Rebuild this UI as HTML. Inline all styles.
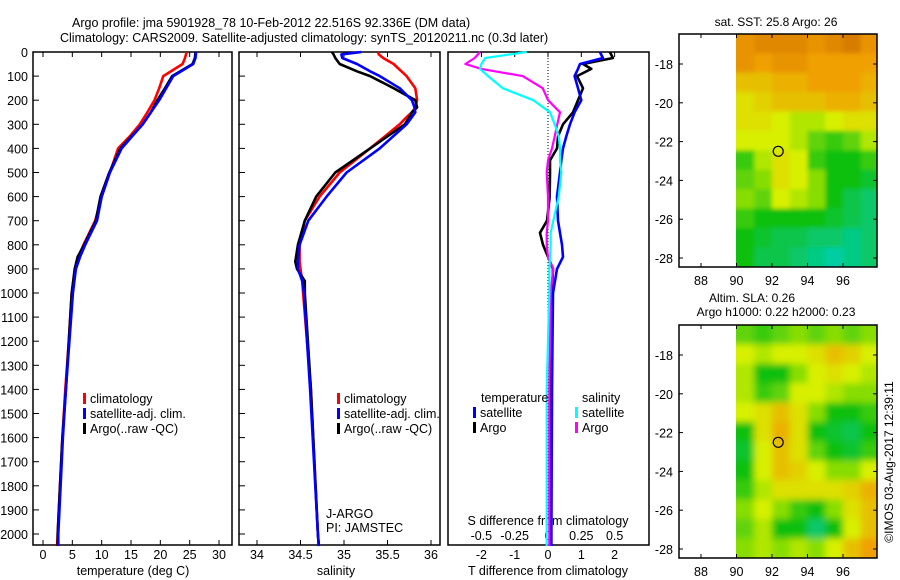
<!DOCTYPE html>
<html><head><meta charset="utf-8">
<style>
html,body{margin:0;padding:0;background:#fff;}
svg{display:block;font-family:"Liberation Sans",sans-serif;font-size:12.5px;}
</style></head>
<body>
<svg id="fig" width="900" height="580" viewBox="0 0 900 580" xmlns="http://www.w3.org/2000/svg">
<defs>
<filter id="blur" x="-5%" y="-5%" width="110%" height="110%"><feGaussianBlur stdDeviation="3.5"/></filter>
<filter id="blur2" x="-5%" y="-5%" width="110%" height="110%"><feGaussianBlur stdDeviation="2"/></filter>
<clipPath id="clip1"><rect x="736" y="34" width="141" height="233"/></clipPath>
<clipPath id="clip2"><rect x="736" y="325" width="141" height="233"/></clipPath>
</defs>
<text x="72" y="27">Argo profile: jma 5901928_78 10-Feb-2012 22.516S 92.336E (DM data)</text>
<text x="60" y="42">Climatology: CARS2009. Satellite-adjusted climatology: synTS_20120211.nc (0.3d later)</text>
<text x="776" y="26" text-anchor="middle" font-size="12">sat. SST: 25.8 Argo: 26</text>
<text x="752" y="302" text-anchor="middle" font-size="12">Altim. SLA: 0.26</text>
<text x="776" y="316" text-anchor="middle" font-size="12">Argo h1000: 0.22 h2000: 0.23</text>
<text transform="translate(893,462) rotate(-90)" text-anchor="middle" font-size="12">©IMOS 03-Aug-2017 12:39:11</text>
<g id="g"></g>
</svg>
<script>
// ---- data ----
const tDepth=[0,25,50,100,150,200,250,300,350,400,500,600,700,800,850,900,1000,1200,1400,1600,1800,2000,2050];
const tClim=[24.5,24.2,23.8,20.5,19.8,19,17.8,16.5,14.8,12.8,11.4,10,8.9,6.9,6.1,5.5,4.9,4.4,3.8,3.3,2.9,2.5,2.4];
const tSat=[26.1,26,25.6,22.2,21,19.8,18.4,17,15.2,13.4,11.4,10,9.2,7.2,6.3,5.6,5.1,4.5,3.9,3.4,3,2.6,2.6];
const tArgo=[26,25.9,25.5,22,20.8,19.5,18.4,17,15.1,13.2,11.3,9.8,9,7,5.9,5.4,4.9,4.4,3.9,3.3,2.9,2.5,2.5];
const sDepth=[0,10,25,50,80,100,150,200,230,250,270,300,400,500,600,700,800,870,900,950,1000,1400,2000,2050];
const sClim=[35.39,35.4,35.45,35.57,35.66,35.72,35.82,35.84,35.82,35.78,35.72,35.64,35.30,34.95,34.72,34.55,34.49,34.49,34.5,34.52,34.53,34.62,34.70,34.71];
const sSat=[35.2,34.97,34.98,35.15,35.3,35.41,35.64,35.78,35.81,35.82,35.78,35.72,35.41,35.03,34.8,34.59,34.49,34.47,34.47,34.52,34.54,34.61,34.70,34.71];
const sArgo=[34.86,34.88,34.9,34.95,35.15,35.3,35.57,35.82,35.84,35.78,35.75,35.7,35.3,34.9,34.68,34.55,34.47,34.44,34.46,34.55,34.55,34.62,34.70,34.71];
const dDepth=[0,25,50,70,100,150,200,250,300,350,400,450,500,600,700,750,800,850,900,1000,1400,2000,2050];
const dTSat=[1.56,1.65,0.96,0.9,0.8,0.9,1.0,0.8,0.66,0.55,0.45,0.4,0.36,0.27,0.3,0.36,0.42,0.45,0.27,0.15,0.12,0.1,0.1];
const dTArgo=[1.86,1.95,1.05,1.3,0.87,1.05,0.9,0.75,0.45,0.3,0.27,0.06,0.06,0.05,-0.03,-0.24,-0.15,0.0,0.15,0.12,0.1,0.1,0.1];
const dSSat=[-0.16,-0.47,-0.5,-0.51,-0.45,-0.34,-0.11,0.015,0.05,0.08,0.09,0.09,0.1,0.08,0.04,0.02,0.02,0.015,0.01,0.01,-0.01,-0.01,-0.01];
const dSArgo=[-0.51,-0.55,-0.62,-0.5,-0.19,-0.04,0.0,0.09,0.07,0.05,0.03,0.0,-0.01,0.0,0.0,-0.01,-0.01,0.0,0.04,0.02,0.01,0.01,0.01];
const depthTicks=[0,100,200,300,400,500,600,700,800,900,1000,1100,1200,1300,1400,1500,1600,1700,1800,1900,2000];
const tTicks=[0,5,10,15,20,25,30];
const sTicks=[34,34.5,35,35.5,36];
const dtTicks=[-2,-1,0,1,2];
const dsTicks=[-0.5,-0.25,0,0.25,0.5];
const dsTickLabels=["-0.5","-0.25","0","0.25","0.5"];
const mapLonTicks=[88,90,92,94,96];
const mapLatTicks=[-18,-20,-22,-24,-26,-28];
const sstGrid=[
[0.85,0.9,0.9,0.9,0.85,0.9,0.95,0.85],
[0.85,0.8,0.85,0.85,0.8,0.8,0.8,0.8],
[0.7,0.7,0.75,0.75,0.8,0.8,0.8,0.75],
[0.6,0.65,0.7,0.7,0.7,0.75,0.75,0.7],
[0.6,0.6,0.55,0.5,0.5,0.55,0.6,0.6],
[0.55,0.55,0.55,0.5,0.4,0.35,0.4,0.5],
[0.35,0.5,0.6,0.55,0.35,0.3,0.3,0.35],
[0.4,0.45,0.6,0.55,0.45,0.3,0.3,0.25],
[0.45,0.4,0.55,0.5,0.45,0.3,0.2,0.15],
[0.35,0.3,0.3,0.3,0.3,0.25,0.2,0.15],
[0.3,0.25,0.2,0.2,0.15,0.15,0.1,0.15],
[0.3,0.2,0.2,0.15,0.1,0.05,0.1,0.15]];
const slaGrid=[
[0.4,0.35,0.4,0.45,0.4,0.45,0.4,0.45],
[0.55,0.5,0.55,0.55,0.6,0.7,0.65,0.55],
[0.5,0.3,0.3,0.45,0.55,0.6,0.55,0.5],
[0.5,0.35,0.4,0.55,0.55,0.5,0.45,0.45],
[0.55,0.6,0.7,0.6,0.45,0.3,0.3,0.35],
[0.3,0.6,0.75,0.6,0.3,0.25,0.2,0.3],
[0.25,0.55,0.7,0.6,0.4,0.3,0.25,0.35],
[0.3,0.55,0.7,0.65,0.55,0.45,0.45,0.55],
[0.35,0.5,0.6,0.6,0.6,0.6,0.65,0.75],
[0.45,0.55,0.45,0.35,0.3,0.45,0.6,0.7],
[0.4,0.5,0.3,0.3,0.15,0.3,0.55,0.7],
[0.45,0.5,0.45,0.5,0.45,0.55,0.7,0.8]];
const argoPos=[92.35,-22.5];

// ---- helpers ----
const NS="http://www.w3.org/2000/svg";
const G=document.getElementById('g');
function mk(tag,attrs,parent){const e=document.createElementNS(NS,tag);for(const k in attrs)e.setAttribute(k,attrs[k]);(parent||G).appendChild(e);return e;}
function txt(x,y,s,anchor,parent){const e=mk('text',{x:x,y:y,'text-anchor':anchor||'start'},parent);e.textContent=s;return e;}
const yD=d=>52+d*0.241;
const PB=545;
const xT=v=>43+v*176/30;
const xS=v=>257+(v-34)*87;
const xDT=v=>548+v*33.3;
const xDS=v=>548+v*133.3;

function frame(x0,x1,name){
  const r=mk('rect',{x:x0,y:52,width:x1-x0,height:PB-52,fill:'none',stroke:'#000','stroke-width':1.5});
  
  
}
function line(xs,ds,xf,color,name,w){
  const p=ds.map((d,i)=>(i?'L':'M')+xf(xs[i]).toFixed(1)+','+yD(d).toFixed(1)).join('');
  const e=mk('path',{d:p,fill:'none',stroke:color,'stroke-width':w||2.6,'stroke-linejoin':'round'});
  
  
}
// depth axis
const dAx=mk('g',{});


depthTicks.forEach(d=>{txt(28,yD(d)+5,String(d),'end',dAx);mk('line',{x1:33,x2:39,y1:yD(d),y2:yD(d),stroke:'#000'},dAx);mk('line',{x1:239,x2:245,y1:yD(d),y2:yD(d),stroke:'#000'},dAx);});

// panel 1 temperature
frame(33,232,'temperature-panel');
const tAx=mk('g',{});


tTicks.forEach(v=>{const x=xT(v);mk('line',{x1:x,x2:x,y1:52,y2:57,stroke:'#000'},tAx);mk('line',{x1:x,x2:x,y1:PB,y2:PB-5,stroke:'#000'},tAx);txt(x,559,String(v),'middle',tAx);});
txt(133,575,'temperature (deg C)','middle',tAx);
line(tClim,tDepth,xT,'#f00','temp-climatology-line');
line(tArgo,tDepth,xT,'#000','temp-argo-line');
line(tSat,tDepth,xT,'#00f','temp-satellite-line');

// panel 2 salinity
frame(239,440,'salinity-panel');
const sAx=mk('g',{});


sTicks.forEach(v=>{const x=xS(v);mk('line',{x1:x,x2:x,y1:52,y2:57,stroke:'#000'},sAx);mk('line',{x1:x,x2:x,y1:PB,y2:PB-5,stroke:'#000'},sAx);txt(x,559,String(v),'middle',sAx);});
txt(336,575,'salinity','middle',sAx);
line(sClim,sDepth,xS,'#f00','sal-climatology-line');
line(sArgo,sDepth,xS,'#000','sal-argo-line');
line(sSat,sDepth,xS,'#00f','sal-satellite-line');
txt(326,518,'J-ARGO');
txt(326,532,'PI: JAMSTEC');

function legend(x,y,items,name){
  const g=mk('g',{});
  
  
  items.forEach((it,i)=>{mk('rect',{x:x,y:y+i*15-9,width:3,height:11,fill:it[0]},g);txt(x+7,y+i*15+1,it[1],'start',g);});
}
legend(83,402,[['#f00','climatology'],['#00f','satellite-adj. clim.'],['#000','Argo(..raw -QC)']],'temperature-legend');
legend(337,402,[['#f00','climatology'],['#00f','satellite-adj. clim.'],['#000','Argo(..raw -QC)']],'salinity-legend');

// panel 3 differences
frame(448,649,'difference-panel');
mk('line',{x1:548,x2:548,y1:52,y2:520,stroke:'#000','stroke-dasharray':'1,2'});
const dAxis=mk('g',{});


dtTicks.forEach(v=>{const x=xDT(v);mk('line',{x1:x,x2:x,y1:52,y2:57,stroke:'#000'},dAxis);txt(x,559,String(v),'middle',dAxis);});
dsTicks.forEach((v,i)=>{txt(xDS(v),540,dsTickLabels[i],'middle',dAxis);});
txt(548,525,'S difference from climatology','middle',dAxis);
txt(548,575,'T difference from climatology','middle',dAxis);
line(dTArgo,dDepth,xDT,'#000','tdiff-argo-line');
line(dTSat,dDepth,xDT,'#00f','tdiff-satellite-line');
line(dSArgo,dDepth,xDS,'#f0f','sdiff-argo-line',2.2);
line(dSSat,dDepth,xDS,'#0ff','sdiff-satellite-line',2.2);
txt(481,402,'temperature');
txt(582,402,'salinity');
legend(473,416,[['#00f','satellite'],['#000','Argo']],'tdiff-legend');
legend(575,416,[['#0ff','satellite'],['#f0f','Argo']],'sdiff-legend');

// maps
const stops=[[0,[0,208,192]],[0.3,[16,192,16]],[0.55,[216,240,0]],[0.8,[240,160,0]],[1,[208,112,0]]];
function cmap(v){for(let i=1;i<stops.length;i++){if(v<=stops[i][0]){const a=stops[i-1],b=stops[i];const t=(v-a[0])/(b[0]-a[0]);const c=a[1].map((q,j)=>Math.round(q+(b[1][j]-q)*t));return 'rgb('+c.join(',')+')';}}return 'rgb(208,112,0)';}
function map(top,grid,name,clip,filt){
  const bot=top+233;
  const xL=lon=>736.5+(lon-90)*17.75;
  const yL=lat=>(top+30)+(-18-lat)*19.4;
  const g=mk('g',{});
  
  
  const cg=mk('g',{'clip-path':'url(#'+clip+')'},g);
  const fg=mk('g',{filter:'url(#'+filt+')'},cg);
  grid.forEach((row,r)=>row.forEach((v,c)=>{
    const lat0=-16.45-r, lon0=90+c;
    let y0=yL(lat0), y1=yL(lat0-1);
    let x0=xL(lon0), x1=xL(lon0+1);
    if(r===0)y0-=12; if(r===grid.length-1)y1+=12;
    if(c===row.length-1)x1+=12; if(c===0)x0-=12;
    const cell=mk('rect',{x:x0,y:y0,width:x1-x0+0.5,height:y1-y0+0.5,fill:cmap(v)},fg);
    
    
  }));
  mk('rect',{x:679,y:top,width:198,height:bot-top,fill:'none',stroke:'#000','stroke-width':1.5},g);
  mapLonTicks.forEach(v=>{const x=xL(v);mk('line',{x1:x,x2:x,y1:bot,y2:bot-4,stroke:'#000'},g);mk('line',{x1:x,x2:x,y1:top,y2:top+4,stroke:'#000'},g);txt(x,bot+18,String(v),'middle',g);});
  mapLatTicks.forEach(v=>{const y=yL(v);mk('line',{x1:679,x2:683,y1:y,y2:y,stroke:'#000'},g);mk('line',{x1:877,x2:873,y1:y,y2:y,stroke:'#000'},g);txt(673,y+5,String(v),'end',g);});
  const c=mk('circle',{cx:xL(argoPos[0]),cy:yL(argoPos[1]),r:5,fill:'none',stroke:'#000','stroke-width':1.2},g);
  
  
}
map(34,sstGrid,'sst-map','clip1','blur2');
map(325,slaGrid,'sla-map','clip2','blur');
</script>
</body></html>
